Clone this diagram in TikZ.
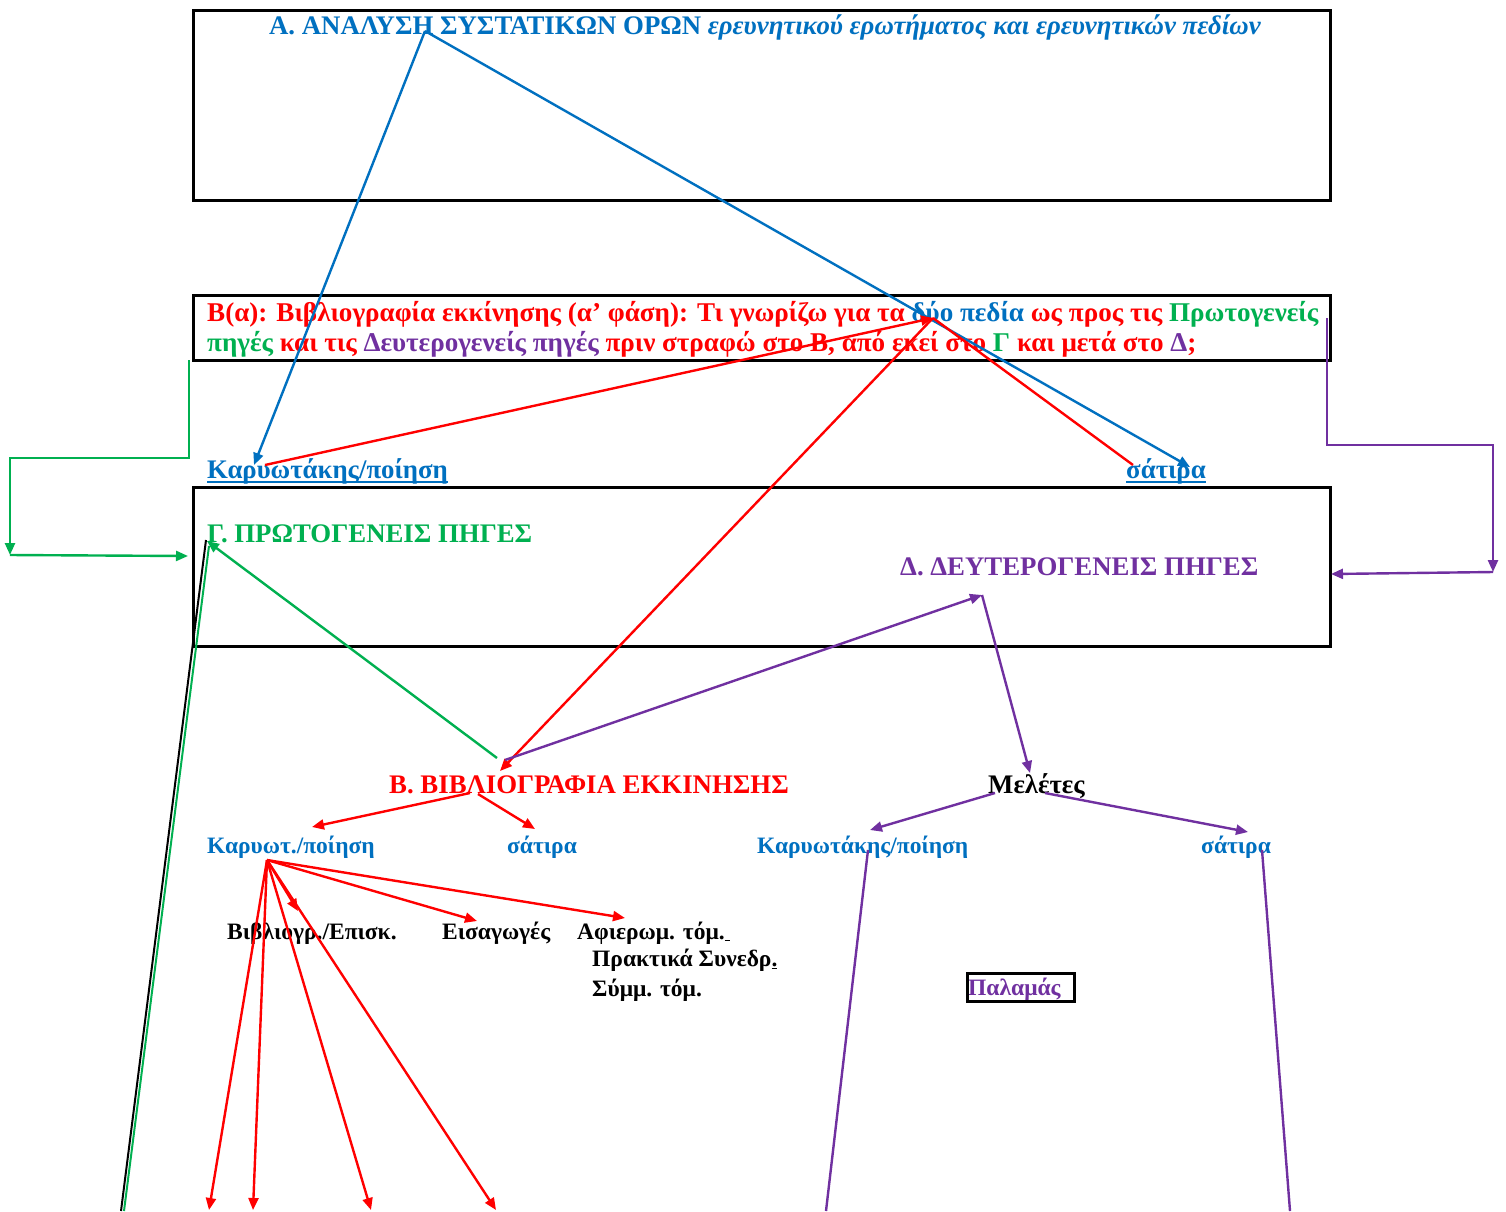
\documentclass[tikz,border=0pt]{standalone}
\usepackage{fontspec}
\setmainfont{Liberation Serif}
\usetikzlibrary{arrows.meta}
\definecolor{cblue}{HTML}{0070C0}
\definecolor{cred}{HTML}{FF0000}
\definecolor{cgreen}{HTML}{00B050}
\definecolor{cpurple}{HTML}{7030A0}
\begin{document}
\begin{tikzpicture}[x=1pt,y=-1pt,
  frame/.style={draw=black,line width=3pt,inner sep=0pt,anchor=north west},
  big/.style={inner sep=0pt,anchor=base west,font=\bfseries\fontsize{26.8}{30}\selectfont},
  small/.style={inner sep=0pt,anchor=base west,font=\bfseries\fontsize{23.5}{27}\selectfont},
  conn/.style={line width=2.4pt,-{Triangle[length=12pt,width=10pt]}},
  plainln/.style={line width=2.4pt},
]
\useasboundingbox (0,0) rectangle (1506,1211);
\fill[white] (0,0) rectangle (1506,1211);

% boxes
\node[frame,minimum width=1137pt,minimum height=190pt] (boxA) at (192,9) {};
\node[frame,minimum width=1137pt,minimum height=65pt] (boxB) at (192,294) {};
\node[frame,minimum width=1137pt,minimum height=159pt] (boxGD) at (192,486) {};

% texts
\node[big,anchor=base,text=cblue] (titleA) at (765,34) {Α. ΑΝΑΛΥΣΗ ΣΥΣΤΑΤΙΚΩΝ ΟΡΩΝ \textit{ερευνητικού ερωτήματος και ερευνητικών πεδίων}};
\node[big,font=\bfseries\fontsize{27.1}{30}\selectfont] (bline1) at (207,321) {\textcolor{cred}{B(α): Βιβλιογραφία εκκίνησης (α’ φάση): Τι γνωρίζω για τα} \textcolor{cblue}{δύο πεδία} \textcolor{cred}{ως προς τις} \textcolor{cgreen}{Πρωτογενείς}};
\node[big,font=\bfseries\fontsize{27.1}{30}\selectfont] (bline2) at (207,351) {\textcolor{cgreen}{πηγές} \textcolor{cred}{και τις} \textcolor{cpurple}{Δευτερογενείς πηγές} \textcolor{cred}{πριν στραφώ στο Β, από εκεί στο} \textcolor{cgreen}{Γ} \textcolor{cred}{και μετά στο} \textcolor{cpurple}{Δ}\textcolor{cred}{;}};
\node[big,text=cblue] (karU) at (207,478) {Καρυωτάκης/ποίηση};
\node[big,text=cblue] (satU) at (1126,478) {σάτιρα};
\draw[cblue,line width=2.8pt] ([yshift=-4pt]karU.base west) -- ([yshift=-4pt]karU.base east);
\draw[cblue,line width=2.8pt] ([yshift=-4pt]satU.base west) -- ([yshift=-4pt]satU.base east);
\node[big,text=cgreen] (gamma) at (207,542) {Γ. ΠΡΩΤΟΓΕΝΕΙΣ ΠΗΓΕΣ};
\node[big,text=cpurple] (delta) at (900,575) {Δ. ΔΕΥΤΕΡΟΓΕΝΕΙΣ ΠΗΓΕΣ};
\node[big,text=cred] (bib) at (389,793) {Β. ΒΙΒΛΙΟΓΡΑΦΙΑ ΕΚΚΙΝΗΣΗΣ};
\node[big] (mel) at (988,793) {Μελέτες};
\node[small,text=cblue] (karS) at (207,853) {Καρυωτ./ποίηση};
\node[small,text=cblue] (satS) at (507,853) {σάτιρα};
\node[small,text=cblue] (karM) at (757,853) {Καρυωτάκης/ποίηση};
\node[small,text=cblue] (satM) at (1201,853) {σάτιρα};
\node[small] (bibl) at (227,939) {Βιβλιογρ./Επισκ.};
\node[small] (eisag) at (442,939) {Εισαγωγές};
\node[small] (afier) at (577,939) {Αφιερωμ. τόμ.\underline{\hspace{5pt}}};
\node[small] (prakt) at (592,966) {Πρακτικά Συνεδρ\underline{.}};
\node[small] (symm) at (592,996) {Σύμμ. τόμ.};
\node[small,text=cpurple] (palam) at (968,995) {Παλαμάς};
\node[draw=black,line width=3pt,inner sep=0pt,anchor=north west,minimum width=107pt,minimum height=28pt] (palBox) at (966,972) {};

% coordinates
\coordinate (aHub) at (425,31);
\coordinate (karUtip) at (254,465);
\coordinate (satUtip) at (1190,467);
\coordinate (dyo) at (933,318);
\coordinate (karUred) at (265,465);
\coordinate (satUred) at (1133,465);
\coordinate (bibTop) at (500,771);
\coordinate (bibL) at (470,793);
\coordinate (bibR) at (478,794);
\coordinate (karStip) at (312,827);
\coordinate (satStip) at (535,829);
\coordinate (fan) at (267,860);
\coordinate (f1) at (209,1210);
\coordinate (f2) at (253,1210);
\coordinate (f3) at (371,1210);
\coordinate (f4) at (496,1210);
\coordinate (f5) at (298,911);
\coordinate (f6) at (477,921);
\coordinate (f7) at (625,918);
\coordinate (g1) at (189,360);
\coordinate (g2) at (189,458);
\coordinate (g3) at (10,458);
\coordinate (g4) at (10,555);
\coordinate (g6) at (188,556);
\coordinate (gTip) at (207,541);
\coordinate (gStart) at (497,758);
\coordinate (blkTop) at (206,540);
\coordinate (blkBot) at (121,1211);
\coordinate (grnTop) at (209,546);
\coordinate (grnBot) at (124,1211);
\coordinate (p1) at (1327,318);
\coordinate (p2) at (1327,445);
\coordinate (p3) at (1493,445);
\coordinate (p4) at (1493,572);
\coordinate (p5) at (1331,574);
\coordinate (pStart) at (505,760);
\coordinate (dTip) at (982,595);
\coordinate (melTip) at (1030,773);
\coordinate (melL) at (995,793);
\coordinate (melR) at (1045,793);
\coordinate (karMtip) at (870,830);
\coordinate (satMtip) at (1248,832);
\coordinate (karMbot) at (868,850);
\coordinate (karMend) at (826,1211);
\coordinate (satMbot) at (1262,850);
\coordinate (satMend) at (1290,1211);

% blue
\draw[conn,cblue] (aHub) -- (karUtip);
\draw[conn,cblue] (aHub) -- (satUtip);
% red
\draw[conn,cred] (karUred) -- (dyo);
\draw[conn,cred] (dyo) -- (bibTop);
\draw[plainln,cred] (satUred) -- (dyo);
\draw[conn,cred] (bibL) -- (karStip);
\draw[conn,cred] (bibR) -- (satStip);
\foreach \t in {f1,f2,f3,f4,f5,f6,f7} \draw[conn,cred] (fan) -- (\t);
% green
\draw[conn,cgreen] (g1) -- (g2) -- (g3) -- (g4);
\draw[conn,cgreen] (g4) -- (g6);
\draw[conn,cgreen] (gStart) -- (gTip);
\draw[black,line width=2pt] (blkTop) -- (blkBot);
\draw[cgreen,line width=2pt] (grnTop) -- (grnBot);
% purple
\draw[conn,cpurple] (p1) -- (p2) -- (p3) -- (p4);
\draw[conn,cpurple] (p4) -- (p5);
\draw[conn,cpurple] (pStart) -- (dTip);
\draw[conn,cpurple] (dTip) -- (melTip);
\draw[conn,cpurple] (melL) -- (karMtip);
\draw[conn,cpurple] (melR) -- (satMtip);
\draw[plainln,cpurple] (karMbot) -- (karMend);
\draw[plainln,cpurple] (satMbot) -- (satMend);
\end{tikzpicture}
\end{document}
